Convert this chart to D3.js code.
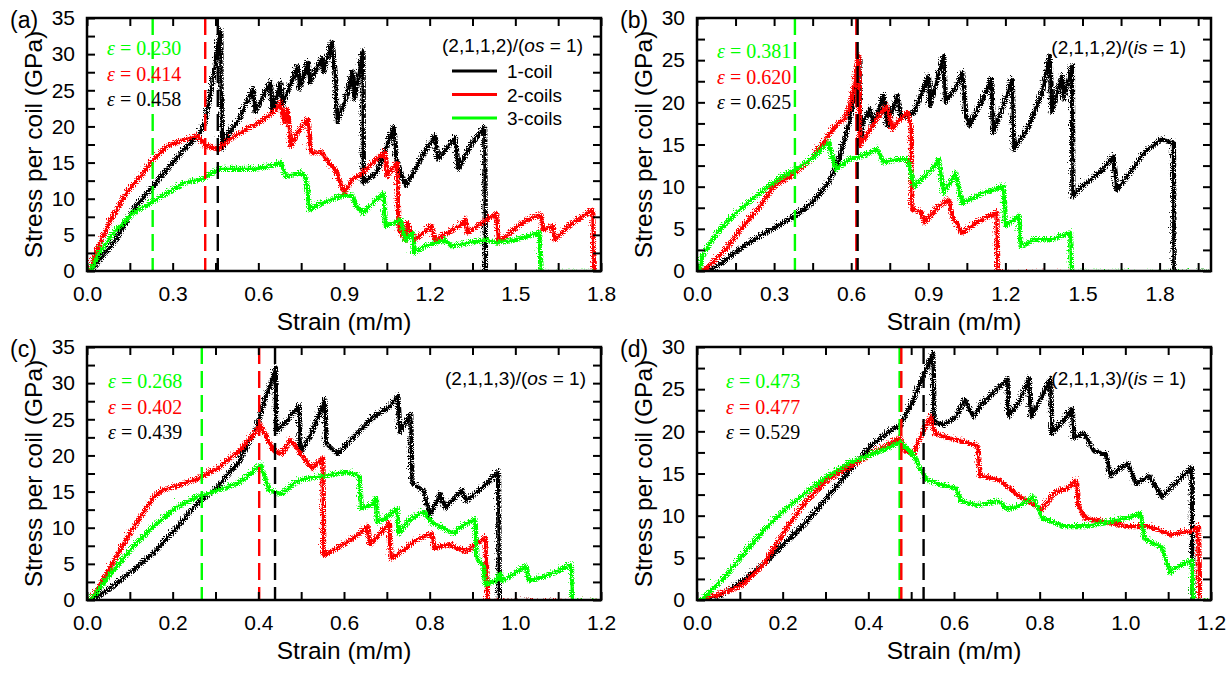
<!DOCTYPE html>
<html><head><meta charset="utf-8">
<script src="https://cdn.jsdelivr.net/npm/d3@7"></script>
<style>
body{margin:0;background:#fff}
svg text{font-family:"Liberation Sans",Arial,sans-serif}
svg text.serif{font-family:"Liberation Serif","Times New Roman",serif}
</style>
</head><body>
<svg id="c" width="1230" height="679"></svg>
<script>
// ---------------- data ----------------
const seriesNames = ["1-coil", "2-coils", "3-coils"];
const seriesColors = ["#000000", "#ff0000", "#00ff00"];
const panelLabels = ["(a)", "(b)", "(c)", "(d)"];
const configLabels = ["(2,1,1,2)/(", "(2,1,1,2)/(", "(2,1,1,3)/(", "(2,1,1,3)/("];
const configSide = ["os", "is", "os", "is"];
const xTicksAB = [0, 0.3, 0.6, 0.9, 1.2, 1.5, 1.8];
const xTicksCD = [0, 0.2, 0.4, 0.6, 0.8, 1.0, 1.2];
const yTicks35 = [0, 5, 10, 15, 20, 25, 30, 35];
const yTicks30 = [0, 5, 10, 15, 20, 25, 30];
// failure strains: [3-coils, 2-coils, 1-coil]
const epsA = [0.230, 0.414, 0.458];
const epsB = [0.381, 0.620, 0.625];
const epsC = [0.268, 0.402, 0.439];
const epsD = [0.473, 0.477, 0.529];

// [strain, stress GPa]
const a_coil1 = [[0,0],[0.046,2.3],[0.094,4.6],[0.154,8.8],[0.214,11.6],[0.274,14.4],[0.334,17.2],[0.382,19.0],[0.406,20.9],[0.43,26.0],[0.454,32.5],[0.46,33.6],[0.461,24.1],[0.464,24.5],[0.466,17.2],[0.49,19.5],[0.526,21.3],[0.55,23.6],[0.574,25.5],[0.58,22.3],[0.61,24.6],[0.634,26.4],[0.64,22.3],[0.67,26.4],[0.676,23.2],[0.73,28.7],[0.736,25.5],[0.766,29.2],[0.772,26.4],[0.814,29.7],[0.82,27.8],[0.85,32.0],[0.862,26.9],[0.868,20.9],[0.898,24.1],[0.922,28.0],[0.928,24.1],[0.958,30.8],[0.959,12.5],[1.006,13.9],[1.042,17.6],[1.066,20.2],[1.075,15.8],[1.108,12.1],[1.174,16.7],[1.21,19.0],[1.222,15.8],[1.258,17.6],[1.282,18.8],[1.291,14.4],[1.342,18.1],[1.384,20.2],[1.387,-0.2],[1.486,-0.2]];
const a_coil2 = [[0,0],[0.022,2.8],[0.07,7.0],[0.13,11.1],[0.19,13.9],[0.226,15.8],[0.274,17.6],[0.334,18.5],[0.382,19.0],[0.406,17.6],[0.454,17.2],[0.49,18.5],[0.55,19.9],[0.598,20.9],[0.646,22.3],[0.67,23.6],[0.682,20.9],[0.694,22.7],[0.706,17.6],[0.73,19.5],[0.766,21.3],[0.775,16.7],[0.814,16.7],[0.838,15.3],[0.862,14.4],[0.874,13.0],[0.892,11.1],[0.922,13.0],[0.958,13.9],[1.018,16.2],[1.036,16.7],[1.042,13.4],[1.078,15.3],[1.084,6.0],[1.108,4.6],[1.114,7.0],[1.138,4.6],[1.198,6.5],[1.21,4.6],[1.294,6.5],[1.318,7.4],[1.324,5.6],[1.378,7.0],[1.426,8.3],[1.432,4.2],[1.486,6.0],[1.534,7.4],[1.582,8.1],[1.588,6.0],[1.624,6.5],[1.63,4.6],[1.678,6.5],[1.762,8.8],[1.768,0],[1.8,0]];
const a_coil3 = [[0,0],[0.034,2.8],[0.094,6.0],[0.154,8.3],[0.214,9.7],[0.274,11.1],[0.334,12.5],[0.394,13.0],[0.454,14.4],[0.514,14.4],[0.574,14.4],[0.634,14.8],[0.67,15.3],[0.688,13.4],[0.742,13.9],[0.76,13.0],[0.772,8.8],[0.814,9.7],[0.886,10.7],[0.922,10.7],[0.934,9.3],[0.958,8.3],[1.006,10.2],[1.032,11.1],[1.036,6.5],[1.09,7.4],[1.108,4.6],[1.132,5.6],[1.138,2.8],[1.174,3.7],[1.246,4.6],[1.27,3.7],[1.33,4.2],[1.39,4.6],[1.426,4.2],[1.486,4.6],[1.534,5.1],[1.576,5.6],[1.582,0],[1.8,0]];

const b_coil1 = [[0,0],[0.05,0.4],[0.104,1.6],[0.171,3.2],[0.237,4.4],[0.304,5.6],[0.371,6.8],[0.437,8.3],[0.504,10.7],[0.544,13.5],[0.584,17.9],[0.611,22.3],[0.624,25.4],[0.627,15.9],[0.637,17.9],[0.664,19.5],[0.677,17.5],[0.717,21.1],[0.731,17.5],[0.771,21.1],[0.784,18.3],[0.837,19.1],[0.891,23.4],[0.897,19.9],[0.951,25.8],[0.957,20.3],[0.997,21.9],[1.024,23.8],[1.037,18.7],[1.051,17.5],[1.104,20.7],[1.137,23.0],[1.144,16.7],[1.184,19.9],[1.217,23.0],[1.224,14.7],[1.277,17.1],[1.331,21.1],[1.364,25.8],[1.371,19.1],[1.411,23.4],[1.418,20.7],[1.451,24.6],[1.453,9.1],[1.491,10.3],[1.571,12.3],[1.611,13.9],[1.624,9.9],[1.677,11.9],[1.731,14.3],[1.797,15.9],[1.844,15.5],[1.847,0],[2.0,0]];
const b_coil2 = [[0,0],[0.05,1.2],[0.104,2.8],[0.171,5.6],[0.237,7.9],[0.291,10.3],[0.357,11.5],[0.437,13.5],[0.491,15.9],[0.531,17.5],[0.564,18.3],[0.584,19.5],[0.604,22.3],[0.621,25.8],[0.624,15.1],[0.651,16.3],[0.691,18.3],[0.731,19.9],[0.751,17.1],[0.771,17.9],[0.811,19.1],[0.824,17.5],[0.827,7.6],[0.864,7.2],[0.877,6.0],[0.931,7.9],[0.971,8.7],[0.984,6.8],[1.024,4.8],[1.077,6.0],[1.157,7.2],[1.161,0],[1.444,0]];
const b_coil3 = [[0,0],[0.011,2.0],[0.051,4.0],[0.104,6.0],[0.171,7.9],[0.237,9.5],[0.304,11.1],[0.371,12.3],[0.437,13.5],[0.504,15.5],[0.531,12.3],[0.584,13.5],[0.637,13.9],[0.691,14.7],[0.717,13.1],[0.771,13.5],[0.811,13.5],[0.837,10.3],[0.904,12.3],[0.931,13.5],[0.951,9.5],[0.997,11.9],[1.024,8.3],[1.104,9.5],[1.184,10.3],[1.191,5.6],[1.244,6.8],[1.251,3.2],[1.304,4.0],[1.371,4.0],[1.444,4.8],[1.448,0],[2.0,0]];

const c_coil1 = [[0,0],[0.05,2.0],[0.10,4.3],[0.15,6.8],[0.20,10.0],[0.25,13.5],[0.30,16.0],[0.35,19.5],[0.39,24.0],[0.41,28.0],[0.425,30.5],[0.435,32.5],[0.437,23.5],[0.46,25.0],[0.49,27.2],[0.492,20.5],[0.52,23.5],[0.55,28.0],[0.553,22.0],[0.58,20.5],[0.62,23.0],[0.66,25.5],[0.70,27.0],[0.72,28.5],[0.725,23.5],[0.75,26.0],[0.753,16.5],[0.78,15.5],[0.795,12.0],[0.82,15.0],[0.83,13.0],[0.87,15.5],[0.88,14.0],[0.92,16.0],[0.955,18.0],[0.957,0],[1.09,0]];
const c_coil2 = [[0,0],[0.05,5.0],[0.10,10.0],[0.15,14.5],[0.17,15.5],[0.20,16.0],[0.25,17.0],[0.30,18.5],[0.35,21.0],[0.38,23.0],[0.40,24.5],[0.43,21.0],[0.45,20.5],[0.47,22.5],[0.50,20.0],[0.52,18.5],[0.545,20.0],[0.547,6.5],[0.58,7.5],[0.62,9.0],[0.65,10.5],[0.655,8.0],[0.68,9.5],[0.70,11.0],[0.705,6.0],[0.74,7.5],[0.76,8.5],[0.80,9.5],[0.805,7.5],[0.84,8.0],[0.88,7.0],[0.90,8.0],[0.925,9.0],[0.93,0],[1.19,0]];
const c_coil3 = [[0,0],[0.05,4.0],[0.10,7.5],[0.15,10.5],[0.20,13.0],[0.25,14.5],[0.30,15.5],[0.35,16.5],[0.39,18.5],[0.40,19.0],[0.42,15.5],[0.45,15.0],[0.48,16.5],[0.50,17.0],[0.55,17.5],[0.60,18.0],[0.63,17.5],[0.635,13.0],[0.66,13.5],[0.67,14.5],[0.672,11.0],[0.70,12.0],[0.72,13.0],[0.722,9.5],[0.75,11.5],[0.78,12.5],[0.80,11.0],[0.82,10.5],[0.85,9.5],[0.87,10.5],[0.90,11.5],[0.905,6.0],[0.92,5.0],[0.925,2.5],[0.95,3.0],[0.96,4.0],[0.965,3.0],[1.02,5.0],[1.025,3.0],[1.06,3.5],[1.10,4.5],[1.125,5.2],[1.128,0],[1.2,0]];

const d_coil1 = [[0,0],[0.05,0.8],[0.10,2.5],[0.15,4.5],[0.20,7.0],[0.25,9.5],[0.30,12.5],[0.35,15.5],[0.40,18.5],[0.45,20.5],[0.47,21.0],[0.50,24.0],[0.52,26.5],[0.545,29.5],[0.548,21.5],[0.57,21.0],[0.60,22.0],[0.62,24.0],[0.64,22.0],[0.66,23.5],[0.70,25.5],[0.72,26.5],[0.722,22.0],[0.75,24.0],[0.77,26.5],[0.775,22.0],[0.80,24.5],[0.82,26.5],[0.823,20.0],[0.85,21.5],[0.87,23.0],[0.875,19.5],[0.90,20.0],[0.92,18.0],[0.95,17.5],[0.96,15.0],[1.00,16.5],[1.02,14.0],[1.05,15.0],[1.08,12.5],[1.12,14.5],[1.15,16.0],[1.152,0],[1.17,0]];
const d_coil2 = [[0,0],[0.05,1.0],[0.10,2.0],[0.15,4.5],[0.20,8.5],[0.25,12.0],[0.30,14.5],[0.35,16.0],[0.40,17.5],[0.45,19.0],[0.47,19.5],[0.48,18.0],[0.50,17.5],[0.52,20.0],[0.54,22.0],[0.55,20.0],[0.58,19.5],[0.62,19.0],[0.65,18.5],[0.655,15.0],[0.70,14.5],[0.75,12.5],[0.80,11.0],[0.83,13.0],[0.86,13.5],[0.88,14.5],[0.885,11.5],[0.90,10.0],[0.95,9.5],[1.00,9.0],[1.05,9.0],[1.10,8.0],[1.15,8.5],[1.165,9.0],[1.168,0],[1.2,0]];
const d_coil3 = [[0,0],[0.03,1.5],[0.06,3.0],[0.10,5.5],[0.15,8.5],[0.20,11.0],[0.25,13.0],[0.30,15.0],[0.35,16.5],[0.40,17.5],[0.45,18.5],[0.47,19.0],[0.50,17.5],[0.53,14.5],[0.56,14.0],[0.60,13.5],[0.61,12.0],[0.65,11.5],[0.70,12.0],[0.72,11.0],[0.75,11.5],[0.78,12.5],[0.80,10.0],[0.85,9.0],[0.90,9.0],[0.95,9.5],[1.00,10.0],[1.03,10.5],[1.04,7.5],[1.06,7.0],[1.08,6.5],[1.09,5.0],[1.10,3.5],[1.11,4.0],[1.13,4.5],[1.15,5.0],[1.153,0],[1.2,0]];

// ---------------- layout ----------------
const W = 514, H = 253;
const panels = [
  {left: 87,  top: 18,  xMax: 1.8, yMax: 35, xTicks: xTicksAB, xMinorStep: 0.3, yTicks: yTicks35, series: [a_coil1, a_coil2, a_coil3], eps: epsA, epsX: 107, epsY: 55, cfgX: 583, cfgY: 52, legend: true},
  {left: 697, top: 18,  xMax: 2.0, yMax: 30, xTicks: xTicksAB, xMinorStep: 0.3, yTicks: yTicks30, series: [b_coil1, b_coil2, b_coil3], eps: epsB, epsX: 717, epsY: 58, cfgX: 1186, cfgY: 54, legend: false},
  {left: 87,  top: 347, xMax: 1.2, yMax: 35, xTicks: xTicksCD, xMinorStep: 0.2, yTicks: yTicks35, series: [c_coil1, c_coil2, c_coil3], eps: epsC, epsX: 108, epsY: 388, cfgX: 586, cfgY: 385, legend: false},
  {left: 697, top: 347, xMax: 1.2, yMax: 30, xTicks: xTicksCD, xMinorStep: 0.2, yTicks: yTicks30, series: [d_coil1, d_coil2, d_coil3], eps: epsD, epsX: 726, epsY: 388, cfgX: 1186, cfgY: 385, legend: false}
];

const svg = d3.select("#c");
const defs = svg.append("defs");
const filt = defs.append("filter").attr("id", "fuzz").attr("filterUnits", "userSpaceOnUse")
  .attr("x", 0).attr("y", 0).attr("width", 1230).attr("height", 679);
filt.append("feTurbulence").attr("type", "turbulence").attr("baseFrequency", "0.5").attr("numOctaves", 1).attr("seed", 4).attr("result", "n");
filt.append("feDisplacementMap").attr("in", "SourceGraphic").attr("in2", "n").attr("scale", 6)
  .attr("xChannelSelector", "R").attr("yChannelSelector", "G");

const epsColors = [seriesColors[2], seriesColors[1], seriesColors[0]];

panels.forEach((p, i) => {
  const x = d3.scaleLinear().domain([0, p.xMax]).range([p.left, p.left + W]);
  const y = d3.scaleLinear().domain([0, p.yMax]).range([p.top + H, p.top]);
  const g = svg.append("g");

  defs.append("clipPath").attr("id", "clip" + i).append("rect")
    .attr("x", p.left).attr("y", p.top).attr("width", W).attr("height", H);

  // curves
  const cg = g.append("g").attr("clip-path", `url(#clip${i})`).append("g").attr("filter", "url(#fuzz)");
  const line = d3.line().x(d => x(d[0])).y(d => y(d[1]));
  p.series.forEach((s, k) => {
    cg.append("path").datum(s).attr("d", line).attr("fill", "none")
      .attr("stroke", seriesColors[k]).attr("stroke-width", 4.3).attr("stroke-linejoin", "round");
  });

  // dashed failure lines
  p.eps.forEach((e, k) => {
    g.append("line").attr("x1", x(e)).attr("x2", x(e)).attr("y1", y(p.yMax)).attr("y2", y(0))
      .attr("stroke", epsColors[k]).attr("stroke-width", 2.4).attr("stroke-dasharray", "17,7");
  });

  // axes
  const fmtX = d3.format(".1f");
  const xMinor = d3.range(p.xMinorStep / 2, p.xMax, p.xMinorStep);
  const yMinor = d3.range(2.5, p.yMax, 5);
  const styleAxis = sel => {
    sel.select(".domain").remove();
    sel.selectAll(".tick line").attr("stroke", "#000").attr("stroke-width", 2);
    sel.selectAll("text").attr("font-size", 21).attr("fill", "#000");
  };
  g.append("g").attr("transform", `translate(0,${p.top + H})`)
    .call(d3.axisBottom(x).tickValues(p.xTicks).tickSize(-8).tickPadding(15).tickFormat(fmtX)).call(styleAxis);
  g.append("g").attr("transform", `translate(0,${p.top + H})`)
    .call(d3.axisBottom(x).tickValues(xMinor).tickSize(-8).tickFormat("")).call(styleAxis);
  g.append("g").attr("transform", `translate(0,${p.top})`)
    .call(d3.axisTop(x).tickValues(p.xTicks.concat(xMinor)).tickSize(-8).tickFormat("")).call(styleAxis);
  g.append("g").attr("transform", `translate(${p.left},0)`)
    .call(d3.axisLeft(y).tickValues(p.yTicks).tickSize(-8).tickPadding(12).tickFormat(d3.format("d"))).call(styleAxis);
  g.append("g").attr("transform", `translate(${p.left},0)`)
    .call(d3.axisLeft(y).tickValues(yMinor).tickSize(-8).tickFormat("")).call(styleAxis);
  g.append("g").attr("transform", `translate(${p.left + W},0)`)
    .call(d3.axisRight(y).tickValues(p.yTicks.concat(yMinor)).tickSize(-8).tickFormat("")).call(styleAxis);

  g.append("rect").attr("x", p.left).attr("y", p.top).attr("width", W).attr("height", H)
    .attr("fill", "none").attr("stroke", "#000").attr("stroke-width", 2.5);

  // axis titles
  g.append("text").attr("x", p.left + W / 2).attr("y", p.top + H + 59)
    .attr("text-anchor", "middle").attr("font-size", 24.5).text("Strain (m/m)");
  g.append("text").attr("transform", `translate(${p.left - 45},${p.top + H / 2}) rotate(-90)`)
    .attr("text-anchor", "middle").attr("font-size", 24.5).text("Stress per coil (GPa)");

  // panel label
  g.append("text").attr("x", p.left - 77).attr("y", p.top + 10).attr("font-size", 23).text(panelLabels[i]);

  // epsilon labels
  p.eps.forEach((e, k) => {
    const t = g.append("text").attr("class", "serif").attr("x", p.epsX).attr("y", p.epsY + k * 25.5)
      .attr("font-size", 20).attr("fill", epsColors[k]);
    t.append("tspan").attr("font-style", "italic").text("ε");
    t.append("tspan").text(" = " + d3.format(".3f")(e));
  });

  // configuration label
  const ct = g.append("text").attr("x", p.cfgX).attr("y", p.cfgY).attr("text-anchor", "end").attr("font-size", 19);
  ct.append("tspan").text(configLabels[i]);
  ct.append("tspan").attr("font-style", "italic").text(configSide[i]);
  ct.append("tspan").text(" = 1)");

  // legend
  if (p.legend) {
    seriesNames.forEach((n, k) => {
      const ly = 71 + k * 23.5;
      g.append("line").attr("x1", 452).attr("x2", 497).attr("y1", ly).attr("y2", ly)
        .attr("stroke", seriesColors[k]).attr("stroke-width", 3);
      g.append("text").attr("x", 507).attr("y", ly + 7).attr("font-size", 19).text(n);
    });
  }
});
</script>
</body></html>
